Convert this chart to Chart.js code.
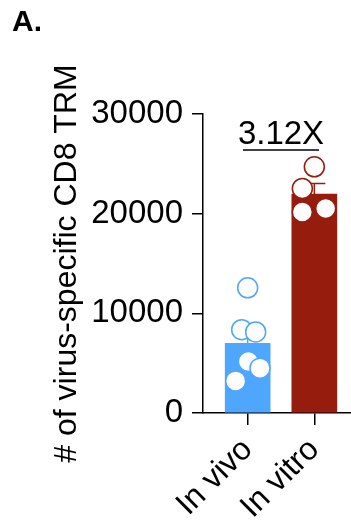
<!DOCTYPE html>
<html>
<head>
<meta charset="utf-8">
<script src="https://cdn.jsdelivr.net/npm/chart.js@4"></script>
<style>
  html, body { margin: 0; padding: 0; background: #fff; }
  #wrap { position: relative; width: 351px; height: 521px; }
  #panel { position: absolute; left: 12px; top: 6px; font: bold 30px "Liberation Sans", Arial, sans-serif; line-height: 30px; color: #000; }
</style>
</head>
<body>
<div id="wrap">
  <canvas id="trmChart" width="351" height="521"></canvas>
  <div id="panel">A.</div>
</div>
<script>
// data
const groups = ['In vivo', 'In vitro'];
const inVivo = [12560, 8360, 8130, 5170, 4500, 3220];
const inVitro = [24700, 22530, 20170, 20510];
const yTicks = [0, 10000, 20000, 30000];
const foldText = '3.12X';
const foldLineValue = 26400;

const samples = [inVivo, inVitro];
const barColors = ['#4fa6fd', '#961d0e'];
// horizontal scatter of the dots, in category units
const jitter = [[0, -0.09, 0.12, 0.01, 0.185, -0.18], [0, -0.18, -0.18, 0.17]];
const family = '"Liberation Sans", Arial, sans-serif';
const tickFont = { family, size: 33 };
const titleFont = { family, size: 32 };

function mean(a) { return a.reduce((s, v) => s + v, 0) / a.length; }
function sem(a) {
  const m = mean(a);
  const sd = Math.sqrt(a.reduce((s, v) => s + (v - m) * (v - m), 0) / (a.length - 1));
  return sd / Math.sqrt(a.length);
}

const dots = [];
const dotColors = [];
samples.forEach((vals, i) => {
  vals.forEach((v, j) => {
    dots.push({ x: i + jitter[i][j], y: v });
    dotColors.push(barColors[i]);
  });
});

// SEM whiskers, drawn right after the bars so dots sit on top
const errorBars = {
  id: 'errorBars',
  afterDatasetDraw(chart, args) {
    if (args.index !== 0) return;
    const { ctx, scales: { x, y } } = chart;
    ctx.save();
    ctx.lineWidth = 1.5;
    samples.forEach((vals, i) => {
      const m = mean(vals), s = sem(vals);
      const px = x.getPixelForValue(i);
      const y0 = y.getPixelForValue(m), y1 = y.getPixelForValue(m + s);
      ctx.strokeStyle = barColors[i];
      ctx.beginPath();
      ctx.moveTo(px, y0);
      ctx.lineTo(px, y1);
      ctx.moveTo(px - 11, y1);
      ctx.lineTo(px + 11, y1);
      ctx.stroke();
    });
    ctx.restore();
  }
};

// fold-change bracket
const foldNote = {
  id: 'foldNote',
  afterDraw(chart) {
    const { ctx, scales: { x, y } } = chart;
    const cx = x.getPixelForValue(0.5);
    const ly = y.getPixelForValue(foldLineValue);
    ctx.save();
    ctx.strokeStyle = '#000';
    ctx.lineWidth = 1.5;
    ctx.beginPath();
    ctx.moveTo(cx - 38, ly);
    ctx.lineTo(cx + 38, ly);
    ctx.stroke();
    ctx.fillStyle = '#000';
    ctx.font = tickFont.size + 'px ' + family;
    ctx.textAlign = 'center';
    ctx.textBaseline = 'alphabetic';
    ctx.fillText(foldText, cx, ly - 6);
    ctx.restore();
  }
};

new Chart(document.getElementById('trmChart'), {
  type: 'bar',
  data: {
    datasets: [{
      type: 'bar',
      data: samples.map((vals, i) => ({ x: i, y: mean(vals) })),
      backgroundColor: barColors,
      barThickness: 45,
      order: 2
    }, {
      type: 'scatter',
      data: dots,
      pointRadius: 10,
      pointBorderWidth: 1.5,
      pointBackgroundColor: '#fdfdfd',
      pointBorderColor: dotColors,
      order: 1
    }]
  },
  options: {
    responsive: false,
    animation: false,
    layout: { autoPadding: false, padding: { top: 114, right: 0, bottom: 0, left: 0 } },
    plugins: { legend: { display: false }, tooltip: { enabled: false } },
    scales: {
      x: {
        type: 'linear',
        min: -0.67,
        max: 1.55,
        offset: false,
        afterBuildTicks: s => { s.ticks = groups.map((g, i) => ({ value: i })); },
        afterFit: s => { s.height = 108; s.paddingLeft = 0; s.paddingRight = 0; },
        ticks: { callback: v => groups[v], minRotation: 45, maxRotation: 45, padding: 6, font: titleFont, color: '#000' },
        grid: { offset: false, drawOnChartArea: false, drawTicks: true, tickLength: 12, color: '#000', lineWidth: 1.5 },
        border: { color: '#000', width: 1.5 }
      },
      y: {
        min: 0,
        max: 30000,
        afterBuildTicks: s => { s.ticks = yTicks.map(v => ({ value: v })); },
        afterFit: s => { s.width = 203; s.paddingTop = 0; s.paddingBottom = 0; },
        ticks: { callback: v => String(v), padding: 9, font: tickFont, color: '#000' },
        grid: { drawOnChartArea: false, drawTicks: true, tickLength: 11, color: '#000', lineWidth: 1.5 },
        border: { color: '#000', width: 1.5 },
        title: { display: true, text: '# of virus-specific CD8 TRM', font: titleFont, color: '#000', padding: { top: 48, bottom: 0 } }
      }
    }
  },
  plugins: [errorBars, foldNote]
});
</script>
</body>
</html>
